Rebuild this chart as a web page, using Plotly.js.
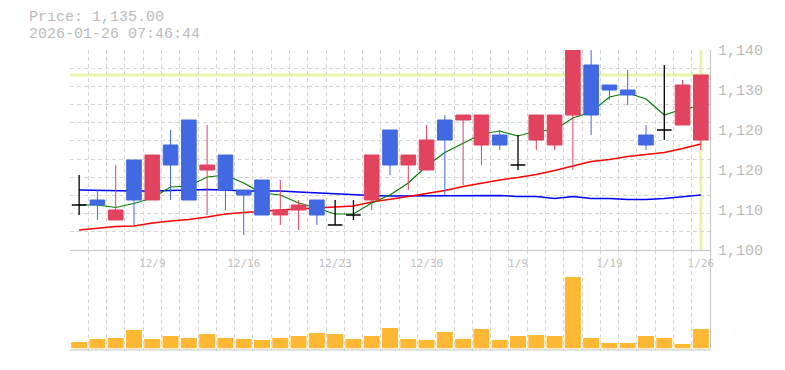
<!DOCTYPE html>
<html><head><meta charset="utf-8">
<script src="https://cdn.plot.ly/plotly-3.0.1.min.js"></script>
<style>html,body{margin:0;padding:0;background:#fff;}#chart{width:785px;height:370px;}</style>
</head><body><div id="chart"></div>
<script>
// ---- data ----
const dates = ['12/3','12/4','12/5','12/8','12/9','12/10','12/11','12/12','12/15','12/16',
  '12/17','12/18','12/19','12/22','12/23','12/24','12/25','12/26','12/29','12/30',
  '1/5','1/6','1/7','1/8','1/9','1/13','1/14','1/15','1/16','1/19',
  '1/20','1/21','1/22','1/23','1/26'];
const xLabels = ['12/9','12/16','12/23','12/30','1/9','1/19','1/26'];

const open  = [1109,1110,1106,1118,1110,1121,1126,1116,1119,1112,
  1114,1107,1108,1110,1105,1107,1110,1124,1117,1116,
  1126,1126,1121,1123,1117,1122,1121,1127,1137,1133,
  1132,1123,1124,1125,1122];
const high  = [1115,1112,1117,1118,1119,1124,1126,1125,1119,1112,
  1114,1114,1110,1110,1110,1110,1119,1124,1119,1125,
  1127,1127,1127,1124,1123,1127,1127,1140,1140,1133,
  1136,1125,1137,1134,1135];
const low   = [1107,1106,1106,1105,1110,1110,1110,1107,1108,1103,
  1107,1105,1104,1105,1105,1106,1108,1115,1112,1116,
  1111,1113,1117,1120,1116,1120,1120,1116,1123,1130,
  1129,1120,1122,1125,1120];
const close = [1109,1109,1108,1110,1119,1117,1110,1117,1112,1111,
  1107,1108,1109,1107,1105,1107,1119,1117,1119,1122,
  1122,1127,1127,1121,1117,1127,1127,1140,1127,1132,
  1131,1121,1124,1133,1135];

const ma5  = [1109,1109,1108.5,1109.3,1110.4,1112.6,1112.8,1114.6,1115,1113.4,
  1111.4,1111,1109.4,1108.4,1107.2,1107.2,1109.4,1111,1113.4,1116.8,
  1119.5,1121.4,1123.2,1123.8,1122.8,1123.8,1124,1126.4,1127.6,1130.6,
  1131.4,1130.2,1127,1128.2,1128.8];
const ma25 = [1104.0,1104.4,1104.7,1104.8,1105.4,1105.8,1106.1,1106.6,1107.2,1107.5,
  1107.8,1108.0,1108.2,1108.4,1108.5,1108.8,1109.6,1110.1,1110.7,1111.3,
  1111.9,1112.7,1113.4,1114.0,1114.5,1115.1,1115.9,1116.8,1117.7,1118.1,
  1118.7,1119.1,1119.5,1120.3,1121.2];
const ma75 = [1112.0,1111.9,1111.8,1111.8,1111.8,1111.9,1112.0,1112.1,1112.0,1111.8,
  1111.8,1111.8,1111.6,1111.4,1111.2,1111.0,1110.9,1110.8,1110.8,1110.8,
  1110.8,1110.8,1110.8,1110.9,1110.7,1110.7,1110.3,1110.7,1110.3,1110.3,
  1110.1,1110.1,1110.3,1110.7,1111.0];

const volume = [6300,9300,10300,18300,9300,12300,10300,14300,10300,9300,
  8300,10300,12300,15300,14300,9300,12300,20300,9300,8300,
  16300,9300,19300,8300,12300,13300,12300,71300,10300,5300,
  5300,12300,10300,4300,19300];

const yTickVals = [1100,1108,1116,1124,1132,1140];
const yTickText = ['1,100','1,110','1,120','1,120','1,130','1,140'];
const lastPrice = 1135;
const titleLines = ['Price: 1,135.00','2026-01-26 07:46:44'];

// ---- styling ----
const RED = '#e2435e', BLUE = '#4169e1', GRID = '#d6d6d6', AXIS = '#c4c4c4', TXT = '#bbbbbb';
const LIME = '#e6f5a8';
const isDoji = open.map((o,i)=>o===close[i]);
const pick = (arr, want) => arr.map((v,i)=> isDoji[i]===want ? v : null);

const traces = [
  {type:'scatter',mode:'lines',x:dates,y:ma75,xaxis:'x',yaxis:'y',line:{color:'#0000ff',width:1.5},hoverinfo:'skip'},
  {type:'scatter',mode:'lines',x:dates,y:ma25,xaxis:'x',yaxis:'y',line:{color:'#ff0000',width:1.5},hoverinfo:'skip'},
  {type:'scatter',mode:'lines',x:dates,y:ma5,xaxis:'x',yaxis:'y',line:{color:'#008000',width:1.2},hoverinfo:'skip'},
  {type:'candlestick',x:dates,open:pick(open,false),high:pick(high,false),low:pick(low,false),close:pick(close,false),
    xaxis:'x',yaxis:'y3',whiskerwidth:0,hoverinfo:'skip',
    increasing:{line:{color:RED,width:1},fillcolor:RED},
    decreasing:{line:{color:BLUE,width:1},fillcolor:BLUE}},
  {type:'candlestick',x:dates,open:pick(open,true),high:pick(high,true),low:pick(low,true),close:pick(close,true),
    xaxis:'x',yaxis:'y3',whiskerwidth:0,hoverinfo:'skip',
    increasing:{line:{color:'#000',width:1.3},fillcolor:'#000'},
    decreasing:{line:{color:'#000',width:1.3},fillcolor:'#000'}},
  {type:'bar',x:dates,y:volume,xaxis:'x',yaxis:'y2',marker:{color:'#ffb833',line:{width:0}},hoverinfo:'skip'}
];

const layout = {
  width:785,height:370,margin:{l:70,r:75,t:50,b:20,pad:0},
  paper_bgcolor:'#fff',plot_bgcolor:'#fff',showlegend:false,
  boxgap:0.2,boxgroupgap:0,bargap:0.125,
  font:{family:'Liberation Mono, monospace',color:TXT,size:15},
  xaxis:{type:'category',categoryorder:'array',categoryarray:dates,range:[-0.5,dates.length-0.5],
    tickmode:'array',tickvals:dates,ticktext:dates.map(d=>xLabels.includes(d)?d:''),tickangle:0,
    tickson:'boundaries',ticks:'',showgrid:true,gridcolor:GRID,griddash:'4px,3px',gridwidth:1,
    showline:true,linecolor:AXIS,linewidth:1,anchor:'y',zeroline:false,automargin:false,
    rangeslider:{visible:false},fixedrange:true,ticklabelstandoff:3,
    tickfont:{family:'DejaVu Sans Mono, monospace',size:11,color:'#c0c0c0'}},
  yaxis:{domain:[1/3,1],range:[1100,1140],tickmode:'linear',tick0:1100,dtick:40/11,
    showticklabels:false,showgrid:true,gridcolor:GRID,griddash:'4px,3px',gridwidth:1,
    zeroline:false,ticks:'',showline:false,automargin:false,fixedrange:true},
  yaxis3:{overlaying:'y',side:'right',anchor:'x',range:[1100,1140],tickmode:'array',
    tickvals:yTickVals,ticktext:yTickText,showgrid:false,zeroline:false,showline:true,
    linecolor:AXIS,linewidth:1,ticks:'',ticklabelstandoff:4,automargin:false,fixedrange:true,
    tickfont:{family:'Liberation Mono, monospace',size:15,color:TXT}},
  yaxis2:{domain:[0,1/3],anchor:'x',side:'right',range:[-1700,98300],showgrid:false,zeroline:false,
    showticklabels:false,showline:true,linecolor:AXIS,linewidth:1,ticks:'',automargin:false,fixedrange:true},
  shapes:[
    {type:'line',xref:'x',yref:'y',x0:-0.5,x1:dates.length-0.5,y0:lastPrice,y1:lastPrice,
      line:{color:LIME,width:3},layer:'below'},
    {type:'line',xref:'x',yref:'y',x0:dates[dates.length-1],x1:dates[dates.length-1],y0:1100,y1:1140,
      line:{color:LIME,width:3},layer:'below'},
    {type:'line',xref:'paper',yref:'paper',x0:0,x1:1,y0:0,y1:0,line:{color:AXIS,width:1}}
  ],
  annotations:[
    {text:titleLines[0],xref:'paper',yref:'paper',x:-0.0656,y:(350-18)/300,xanchor:'left',yanchor:'middle',
      height:13,borderpad:0,valign:'middle',
      showarrow:false,font:{family:'Liberation Mono, monospace',size:15,color:TXT}},
    {text:titleLines[1],xref:'paper',yref:'paper',x:-0.0656,y:(350-34)/300,xanchor:'left',yanchor:'middle',
      height:13,borderpad:0,valign:'middle',
      showarrow:false,font:{family:'Liberation Mono, monospace',size:15,color:TXT}}
  ]
};
Plotly.newPlot('chart',traces,layout,{displayModeBar:false,staticPlot:true});
</script></body></html>
